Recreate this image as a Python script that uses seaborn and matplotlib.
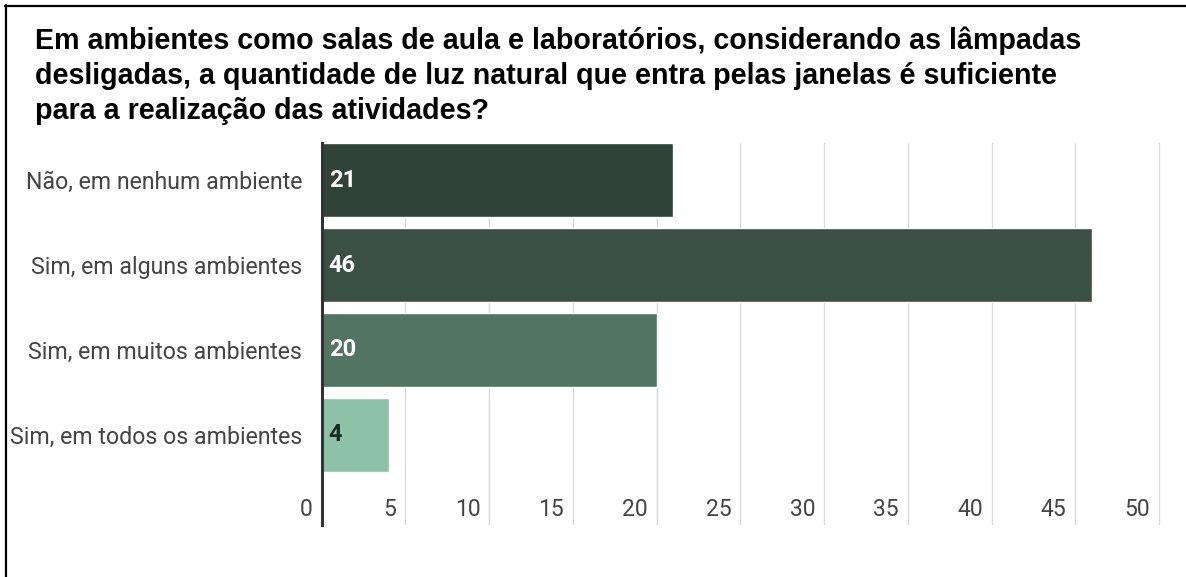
import matplotlib
matplotlib.use("Agg")
import matplotlib.pyplot as plt
import matplotlib.transforms as mtransforms
from matplotlib.lines import Line2D
import seaborn as sns
import pandas as pd

# Survey answers and counts
categories = [
    "Não, em nenhum ambiente",
    "Sim, em alguns ambientes",
    "Sim, em muitos ambientes",
    "Sim, em todos os ambientes",
]
counts = [21, 46, 20, 4]
bar_colors = ["#2f4338", "#3b5045", "#527563", "#8dc2a7"]
label_colors = ["white", "white", "white", "#1b2a22"]
x_ticks = [0, 5, 10, 15, 20, 25, 30, 35, 40, 45, 50]

title_lines = [
    "Em ambientes como salas de aula e laboratórios, considerando as lâmpadas",
    "desligadas, a quantidade de luz natural que entra pelas janelas é suficiente",
    "para a realização das atividades?",
]

sns.set_theme(style="white")
plt.rcParams["font.family"] = ["Roboto", "DejaVu Sans"]

W, H = 1186, 577
fig = plt.figure(figsize=(W / 100, H / 100), dpi=100)
fig.patch.set_facecolor("white")

# axes placed in pixel terms: x=0 at 321.7 px, 16.75 px per unit
x0_px, px_per_unit = 321.7, 16.75
xmax = 51
top_px, bottom_px = 142.7, 525.0
ax = fig.add_axes([
    x0_px / W,
    1 - bottom_px / H,
    xmax * px_per_unit / W,
    (bottom_px - top_px) / H,
])

df = pd.DataFrame({"categoria": categories, "respostas": counts})
sns.barplot(
    data=df, y="categoria", x="respostas", hue="categoria",
    palette=bar_colors, orient="h", width=0.88, legend=False,
    saturation=1, ax=ax, zorder=3,
)

ax.set_xlim(0, xmax)
ax.set_ylim(4.059, -0.439)
ax.set_xlabel("")
ax.set_ylabel("")

# vertical gridlines
for t in x_ticks[1:]:
    ax.axvline(t, color="#d9d9d9", lw=1.0, zorder=1)

for side in ["top", "right", "bottom"]:
    ax.spines[side].set_visible(False)
ax.spines["left"].set_color("#333333")
ax.spines["left"].set_linewidth(2.2)
ax.spines["left"].set_zorder(4)

ax.set_xticks([])
ax.tick_params(axis="y", length=0, pad=14, labelsize=16.7, labelcolor="#444444")

# x tick numbers sit inside the plot, to the left of each gridline
num_tf = mtransforms.offset_copy(ax.transData, fig=fig, x=-9, y=0, units="dots")
for t in x_ticks:
    ax.text(t, 3.88, str(t), transform=num_tf, ha="right", va="center",
            fontsize=16.5, color="#444444")

# value labels inside the bars
val_tf = mtransforms.offset_copy(ax.transData, fig=fig, x=7, y=0, units="dots")
for i, (v, c) in enumerate(zip(counts, label_colors)):
    ax.text(0, i, str(v), transform=val_tf, ha="left", va="center",
            fontsize=17, fontweight="bold", color=c, zorder=5)

# title, three bold lines
for k, line in enumerate(title_lines):
    fig.text(35 / W, 1 - (49 + 35 * k) / H, line, ha="left", va="baseline",
             fontsize=20.6, fontweight="bold", color="black",
             family=["Liberation Sans", "DejaVu Sans"])

# frame lines along the top and left edges
fig.add_artist(Line2D([5 / W, 1], [1 - 5.5 / H, 1 - 5.5 / H],
                      transform=fig.transFigure, color="black", lw=1.6))
fig.add_artist(Line2D([5.5 / W, 5.5 / W], [0, 1 - 5 / H],
                      transform=fig.transFigure, color="black", lw=1.6))

fig.savefig("out.png", dpi=100, facecolor="white")
